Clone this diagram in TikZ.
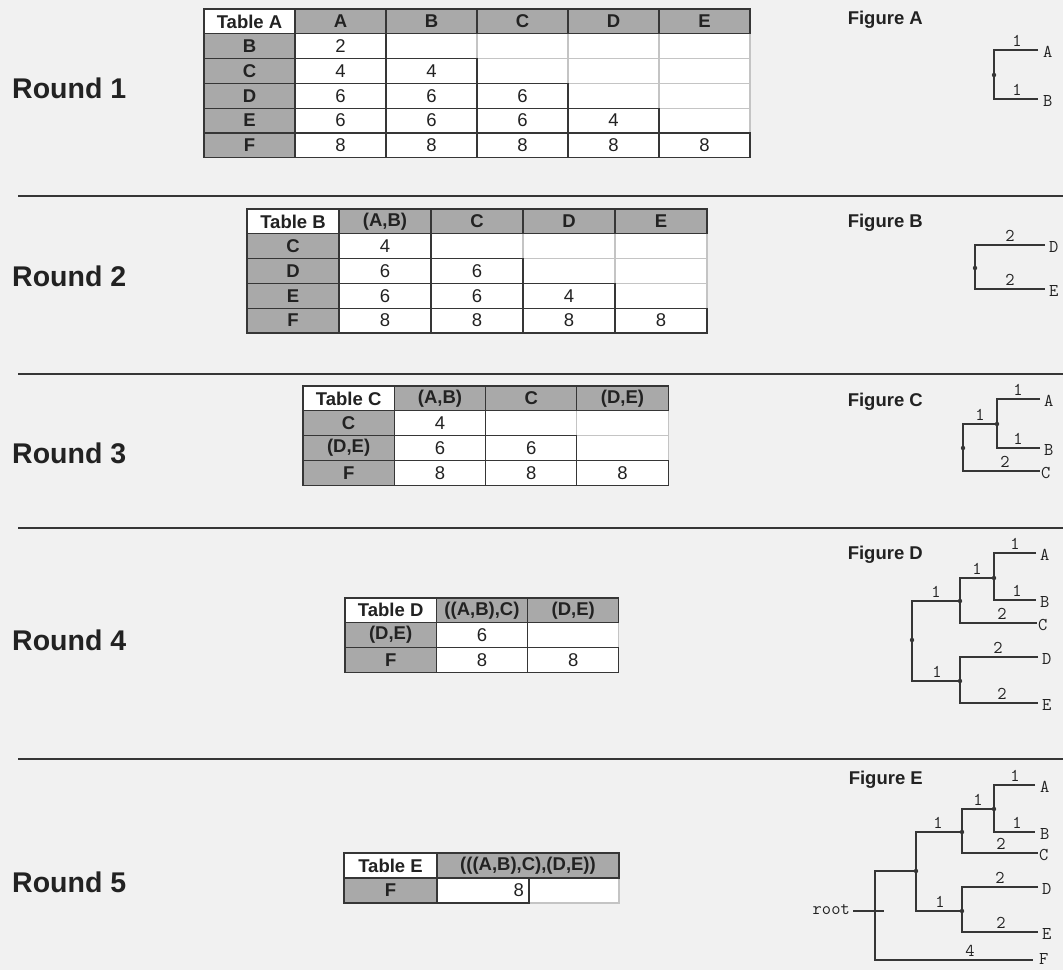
\documentclass[tikz,border=0pt]{standalone}
\usepackage{fontspec}
\setmainfont{Liberation Sans}
\definecolor{bgcol}{HTML}{F1F1F1}
\definecolor{hdrgray}{HTML}{A9A9A9}
\definecolor{lineD}{HTML}{363636}
\definecolor{lineL}{HTML}{C4C4C4}
\definecolor{txt}{HTML}{222222}
\newcommand\tabfont{\fontsize{18.5}{20}\selectfont}
\newcommand\tabbold{\bfseries\fontsize{18.5}{20}\selectfont}
\newcommand\roundfont{\bfseries\fontsize{28.5}{30}\selectfont}
\newcommand\treefont{\ttfamily\fontsize{18}{19}\selectfont}
\begin{document}
\begin{tikzpicture}[x=1pt,y=-1pt,
  cell/.style={draw=lineD, line width=1.1pt, fill=white, inner sep=0pt, outer sep=0pt, anchor=north west, font=\tabfont, text=txt},
  ecell/.style={cell, draw=lineL},
  hdr/.style={cell, fill=hdrgray, font=\tabbold},
  corner/.style={cell, font=\tabbold},
  rnd/.style={anchor=west, font=\roundfont, inner sep=0pt, text=txt},
  figlab/.style={anchor=east, font=\tabbold, inner sep=0pt, text=txt},
  tree/.style={line width=1.3pt, draw=lineD},
  dot/.style={fill=lineD},
  leaf/.style={anchor=west, font=\treefont, inner sep=1pt, text=txt, yshift=-1.5pt},
  blen/.style={anchor=base, font=\treefont, inner sep=0pt, text=txt},
  sep/.style={line width=1.2pt, draw=lineD}]
\useasboundingbox[fill=bgcol] (0,0) rectangle (1063,970);

% ---------- Round labels ----------
\node[rnd] (r1) at (12,88) {Round 1};
\node[rnd] (r2) at (12,276) {Round 2};
\node[rnd] (r3) at (12,453) {Round 3};
\node[rnd] (r4) at (12,640) {Round 4};
\node[rnd] (r5) at (12,882) {Round 5};

% ---------- separators ----------
\coordinate (s1l) at (18,196); \coordinate (s1r) at (1063,196);
\coordinate (s2l) at (18,374); \coordinate (s2r) at (1063,374);
\coordinate (s3l) at (18,528); \coordinate (s3r) at (1063,528);
\coordinate (s4l) at (18,759); \coordinate (s4r) at (1063,759);
\draw[sep] (s1l) -- (s1r);
\draw[sep] (s2l) -- (s2r);
\draw[sep] (s3l) -- (s3r);
\draw[sep] (s4l) -- (s4r);

% ---------- Table A ----------
\begin{scope}[every node/.append style={minimum width=91pt, minimum height=24.8pt}]
\foreach \i in {1,...,4}{\foreach \j in {\i,...,4}{\pgfmathtruncatemacro\jj{\j+1}
  \node[ecell] (ta-\i-\jj) at ({204+91*\jj},{9+24.8*\i}) {};}}
\foreach \vals [count=\i] in {{2},{4,4},{6,6,6},{6,6,6,4},{8,8,8,8,8}}{\foreach \v [count=\j] in \vals{
  \node[cell] (ta-\i-\j) at ({204+91*\j},{9+24.8*\i}) {\v};}}
\foreach \lab [count=\j] in {A,B,C,D,E}
  \node[hdr] (ta-h\j) at ({204+91*\j},9) {\lab};
\foreach \lab [count=\i] in {B,C,D,E,F}
  \node[hdr] (ta-r\i) at (204,{9+24.8*\i}) {\lab};
\node[corner] (ta-c) at (204,9) {Table A};
\end{scope}

% ---------- Table B ----------
\begin{scope}[every node/.append style={minimum width=92pt, minimum height=24.8pt}]
\foreach \i in {1,...,3}{\foreach \j in {\i,...,3}{\pgfmathtruncatemacro\jj{\j+1}
  \node[ecell] (tb-\i-\jj) at ({247+92*\jj},{209+24.8*\i}) {};}}
\foreach \vals [count=\i] in {{4},{6,6},{6,6,4},{8,8,8,8}}{\foreach \v [count=\j] in \vals{
  \node[cell] (tb-\i-\j) at ({247+92*\j},{209+24.8*\i}) {\v};}}
\foreach \lab [count=\j] in {{(A,B)},C,D,E}
  \node[hdr] (tb-h\j) at ({247+92*\j},209) {\lab};
\foreach \lab [count=\i] in {C,D,E,F}
  \node[hdr] (tb-r\i) at (247,{209+24.8*\i}) {\lab};
\node[corner] (tb-c) at (247,209) {Table B};
\end{scope}

% ---------- Table C ----------
\begin{scope}[every node/.append style={minimum width=91.3pt, minimum height=24.8pt}]
\foreach \i in {1,...,2}{\foreach \j in {\i,...,2}{\pgfmathtruncatemacro\jj{\j+1}
  \node[ecell] (tc-\i-\jj) at ({303+91.3*\jj},{386+24.8*\i}) {};}}
\foreach \vals [count=\i] in {{4},{6,6},{8,8,8}}{\foreach \v [count=\j] in \vals{
  \node[cell] (tc-\i-\j) at ({303+91.3*\j},{386+24.8*\i}) {\v};}}
\foreach \lab [count=\j] in {{(A,B)},C,{(D,E)}}
  \node[hdr] (tc-h\j) at ({303+91.3*\j},386) {\lab};
\foreach \lab [count=\i] in {C,{(D,E)},F}
  \node[hdr] (tc-r\i) at (303,{386+24.8*\i}) {\lab};
\node[corner] (tc-c) at (303,386) {Table C};
\end{scope}

% ---------- Table D ----------
\begin{scope}[every node/.append style={minimum width=91.3pt, minimum height=24.7pt}]
\node[ecell] (td-1-2) at ({345+91.3*2},{598+24.7}) {};
\node[cell] (td-1-1) at ({345+91.3},{598+24.7}) {6};
\node[cell] (td-2-1) at ({345+91.3},{598+2*24.7}) {8};
\node[cell] (td-2-2) at ({345+91.3*2},{598+2*24.7}) {8};
\node[hdr] (td-h1) at ({345+91.3},598) {((A,B),C)};
\node[hdr] (td-h2) at ({345+91.3*2},598) {(D,E)};
\node[hdr] (td-r1) at (345,{598+24.7}) {(D,E)};
\node[hdr] (td-r2) at (345,{598+2*24.7}) {F};
\node[corner] (td-c) at (345,598) {Table D};
\end{scope}

% ---------- Table E ----------
\begin{scope}[every node/.append style={minimum height=25pt}]
\node[ecell, minimum width=90pt] (te-1-2) at (529,878) {};
\node[cell, minimum width=92pt] (te-1-1) at (437,878) {};
\node[anchor=east, font=\tabfont, text=txt, inner sep=0pt] (te-v) at ([xshift=-5pt]te-1-1.east) {8};
\node[hdr, minimum width=182pt] (te-h1) at (437,853) {(((A,B),C),(D,E))};
\node[hdr, minimum width=93pt] (te-r1) at (344,878) {F};
\node[corner, minimum width=93pt] (te-c) at (344,853) {Table E};
\end{scope}

% ---------- Figure labels ----------
\node[figlab] (fla) at (923,20) {Figure A};
\node[figlab] (flb) at (923,223) {Figure B};
\node[figlab] (flc) at (923,402) {Figure C};
\node[figlab] (fld) at (923,555) {Figure D};
\node[figlab] (fle) at (923,780) {Figure E};

% ---------- Figure A tree ----------
\coordinate (fa-n) at (994,75);
\coordinate (fa-a) at (1038,50);
\coordinate (fa-b) at (1038,99);
\draw[tree] (fa-a) -| (fa-n) |- (fa-b);
\fill[dot] (fa-n) circle (2.2);
\node[leaf] (fa-la) at ([xshift=4pt]fa-a) {A};
\node[leaf] (fa-lb) at ([xshift=4pt]fa-b) {B};
\node[blen] (fa-1) at (1017,46) {1};
\node[blen] (fa-2) at (1017,95) {1};

% ---------- Figure B tree ----------
\coordinate (fb-n) at (975,268);
\coordinate (fb-d) at (1045,245);
\coordinate (fb-e) at (1045,289);
\draw[tree] (fb-d) -| (fb-n) |- (fb-e);
\fill[dot] (fb-n) circle (2.2);
\node[leaf] (fb-ld) at ([xshift=3pt]fb-d) {D};
\node[leaf] (fb-le) at ([xshift=3pt]fb-e) {E};
\node[blen] (fb-1) at (1010,241) {2};
\node[blen] (fb-2) at (1010,285) {2};

% ---------- Figure C tree ----------
\coordinate (fc-ab) at (997,424);
\coordinate (fc-a) at (1040,399);
\coordinate (fc-b) at (1040,448);
\coordinate (fc-r) at (963,448);
\coordinate (fc-c) at (1040,471);
\draw[tree] (fc-a) -| (fc-ab) |- (fc-b);
\draw[tree] (fc-ab) -| (fc-r) |- (fc-c);
\fill[dot] (fc-ab) circle (2.2);
\fill[dot] (fc-r) circle (2.2);
\node[leaf] (fc-la) at ([xshift=3pt]fc-a) {A};
\node[leaf] (fc-lb) at ([xshift=3pt]fc-b) {B};
\node[leaf] (fc-lc) at ([xshift=0pt]fc-c) {C};
\node[blen] (fc-1) at (1018,395) {1};
\node[blen] (fc-2) at (1018,444) {1};
\node[blen] (fc-3) at (980,420) {1};
\node[blen] (fc-4) at (1005,467) {2};

% ---------- Figure D tree ----------
\coordinate (fd-ab) at (994,578);
\coordinate (fd-a) at (1036,553);
\coordinate (fd-b) at (1036,600);
\coordinate (fd-abc) at (960,601);
\coordinate (fd-c) at (1037,623);
\coordinate (fd-de) at (960,681);
\coordinate (fd-d) at (1038,657);
\coordinate (fd-e) at (1038,703);
\coordinate (fd-r) at (912,640);
\draw[tree] (fd-a) -| (fd-ab) |- (fd-b);
\draw[tree] (fd-ab) -| (fd-abc) |- (fd-c);
\draw[tree] (fd-d) -| (fd-de) |- (fd-e);
\draw[tree] (fd-abc) -| (fd-r) |- (fd-de);
\foreach \p in {fd-ab,fd-abc,fd-de,fd-r} \fill[dot] (\p) circle (2.2);
\node[leaf] (fd-la) at ([xshift=3pt]fd-a) {A};
\node[leaf] (fd-lb) at ([xshift=3pt]fd-b) {B};
\node[leaf] (fd-lc) at ([xshift=0pt]fd-c) {C};
\node[leaf] (fd-ld) at ([xshift=3pt]fd-d) {D};
\node[leaf] (fd-le) at ([xshift=3pt]fd-e) {E};
\node[blen] (fd-1) at (1015,549) {1};
\node[blen] (fd-2) at (977,574) {1};
\node[blen] (fd-3) at (1017,596) {1};
\node[blen] (fd-4) at (936,597) {1};
\node[blen] (fd-5) at (1002,619) {2};
\node[blen] (fd-6) at (998,653) {2};
\node[blen] (fd-7) at (937,677) {1};
\node[blen] (fd-8) at (1002,699) {2};

% ---------- Figure E tree ----------
\coordinate (fe-ab) at (994,809);
\coordinate (fe-a) at (1035,785);
\coordinate (fe-b) at (1035,832);
\coordinate (fe-abc) at (962,832);
\coordinate (fe-c) at (1038,853);
\coordinate (fe-de) at (962,911);
\coordinate (fe-d) at (1038,887);
\coordinate (fe-e) at (1038,932);
\coordinate (fe-x) at (916,871);
\coordinate (fe-rt) at (875,911);
\coordinate (fe-f) at (1033,960);
\coordinate (fe-sl) at (853,911);
\coordinate (fe-sr) at (884,911);
\draw[tree] (fe-a) -| (fe-ab) |- (fe-b);
\draw[tree] (fe-ab) -| (fe-abc) |- (fe-c);
\draw[tree] (fe-d) -| (fe-de) |- (fe-e);
\draw[tree] (fe-abc) -| (fe-x) |- (fe-de);
\draw[tree] (fe-x) -| (fe-rt) |- (fe-f);
\draw[tree] (fe-sl) -- (fe-sr);
\foreach \p in {fe-ab,fe-abc,fe-de,fe-x} \fill[dot] (\p) circle (2.2);
\node[leaf] (fe-la) at ([xshift=4pt]fe-a) {A};
\node[leaf] (fe-lb) at ([xshift=4pt]fe-b) {B};
\node[leaf] (fe-lc) at ([xshift=0pt]fe-c) {C};
\node[leaf] (fe-ld) at ([xshift=3pt]fe-d) {D};
\node[leaf] (fe-le) at ([xshift=3pt]fe-e) {E};
\node[leaf, yshift=2.5pt] (fe-lf) at ([xshift=5pt]fe-f) {F};
\node[anchor=east, font=\treefont, inner sep=0pt, text=txt] (fe-root) at ([xshift=-3pt,yshift=1pt]fe-sl) {root};
\node[blen] (fe-1) at (1015,781) {1};
\node[blen] (fe-2) at (978,805) {1};
\node[blen] (fe-3) at (1017,828) {1};
\node[blen] (fe-4) at (938,828) {1};
\node[blen] (fe-5) at (1001,849) {2};
\node[blen] (fe-6) at (1000,883) {2};
\node[blen] (fe-7) at (940,907) {1};
\node[blen] (fe-8) at (1001,928) {2};
\node[blen] (fe-9) at (970,956) {4};
\end{tikzpicture}
\end{document}
